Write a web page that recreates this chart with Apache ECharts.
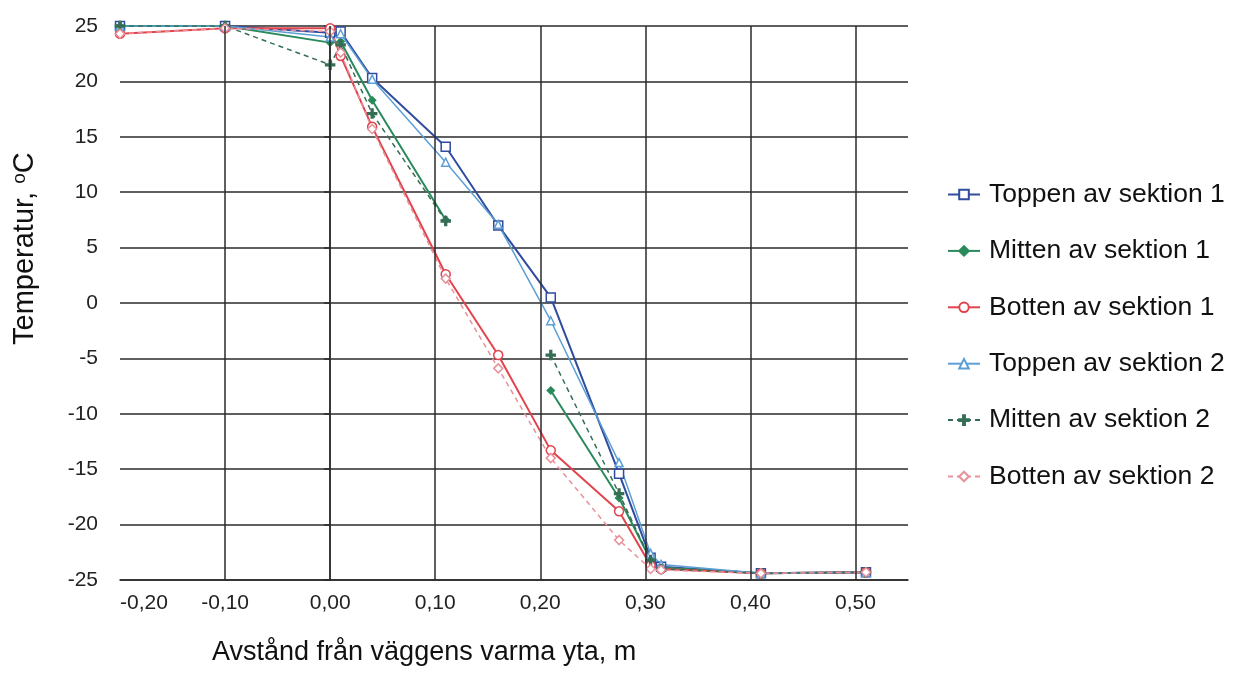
<!DOCTYPE html>
<html>
<head>
<meta charset="utf-8">
<script src="https://cdn.jsdelivr.net/npm/echarts@6/dist/echarts.min.js"></script>
<style>
html,body{margin:0;padding:0;background:#fff;}
#chart{width:1233px;height:681px;}
</style>
</head>
<body>
<div id="chart"></div>
<script>
// ---- data ----
const xPositions = [-0.20, -0.10, 0.00, 0.01, 0.04, 0.11, 0.16, 0.21, 0.275, 0.305, 0.315, 0.41, 0.51];
const seriesNames = ['Toppen av sektion 1','Mitten av sektion 1','Botten av sektion 1','Toppen av sektion 2','Mitten av sektion 2','Botten av sektion 2'];
const toppen1 = [25, 25, 24.4, 24.5, 20.3, 14.1, 7.0, 0.5, -15.4, -23.0, -23.8, -24.4, -24.3];
const mitten1 = [25, 25, 23.5, 23.6, 18.3, 7.5, null, -7.9, -17.6, -23.2, -23.9, -24.4, -24.3];
const botten1 = [24.3, 24.8, 24.8, 22.3, 15.9, 2.6, -4.7, -13.3, -18.8, -23.7, -24.0, -24.4, -24.3];
const toppen2 = [25, 25, 24.0, 24.3, 20.2, 12.7, 7.1, -1.6, -14.4, -22.6, -23.6, -24.4, -24.3];
const mitten2 = [25, 25, 21.5, 23.3, 17.1, 7.4, null, -4.7, -17.2, -23.2, -24.0, -24.4, -24.3];
const botten2 = [24.3, 24.8, 24.5, 22.6, 15.7, 2.2, -5.9, -14.0, -21.4, -24.0, -24.1, -24.4, -24.3];
const xGridTicks = [-0.10, 0.00, 0.10, 0.20, 0.30, 0.40, 0.50];
const xAxisTitle = 'Avstånd från väggens varma yta, m';

function pairs(ys){ return xPositions.map((x,i)=>[x, ys[i]]); }

const FONT = '"Liberation Sans", Arial, sans-serif';
const plusPath = 'path://M4,0h2v10h-2z M0,4h10v2h-10z';

const chart = echarts.init(document.getElementById('chart'), null, {renderer:'canvas'});

function mk(name, ys, color, width, type, symbol, size, filled){
  return {
    name, type:'line', data: pairs(ys), connectNulls:false,
    symbol, symbolSize:size, showSymbol:true,
    lineStyle:{color, width, type},
    itemStyle:{color: filled ? color : '#fff', borderColor:color, borderWidth:1.5},
    emphasis:{disabled:true}, z:3
  };
}

const series = [
  mk(seriesNames[0], toppen1, '#2f4c9e', 2, 'solid', 'rect', 9, false),
  mk(seriesNames[1], mitten1, '#2a8a5c', 2, 'solid', 'diamond', 7, true),
  mk(seriesNames[2], botten1, '#e2434c', 2, 'solid', 'circle', 9, false),
  mk(seriesNames[3], toppen2, '#5b9fd6', 1.5, 'solid', 'triangle', 8, false),
  mk(seriesNames[4], mitten2, '#356e55', 1.5, [5,4], plusPath, 9, true),
  mk(seriesNames[5], botten2, '#e8919b', 1.5, [5,4], 'diamond', 9, false),
  {
    type:'line', data:[], silent:true, z:1,
    markLine:{
      silent:true, symbol:['none','none'], label:{show:false},
      lineStyle:{color:'#2a2a2a', width:1.5, type:'solid'},
      emphasis:{disabled:true},
      data: xGridTicks.map(v=>({xAxis:v}))
    }
  }
];

chart.setOption({
  animation:false,
  backgroundColor:'#fff',
  grid:{left:120, right:325, top:26, bottom:101},
  legend:{
    orient:'vertical', left:942, top:176,
    itemWidth:32, itemHeight:12, itemGap:29.4,
    data: seriesNames,
    textStyle:{fontSize:26.5, color:'#111', fontFamily:FONT, padding:[0,0,0,4]}
  },
  xAxis:{
    type:'value', min:-0.2, max:0.55, interval:0.1,
    axisLine:{show:true, onZero:false, lineStyle:{color:'#2a2a2a', width:1.5}},
    axisTick:{show:false},
    splitLine:{show:false},
    axisLabel:{
      fontSize:21, color:'#222', fontFamily:FONT, margin:13,
      alignMinLabel:'left',
      formatter: v => (v > 0.505) ? '' : v.toFixed(2).replace('.', ',')
    }
  },
  yAxis:{
    type:'value', min:-25, max:25, interval:5,
    axisLine:{show:true, lineStyle:{color:'#2a2a2a', width:1.5}},
    axisTick:{show:true, inside:false, length:6, lineStyle:{color:'#2a2a2a', width:1.5}},
    splitLine:{show:true, lineStyle:{color:'#2a2a2a', width:1.5}},
    axisLabel:{fontSize:21, color:'#222', fontFamily:FONT, margin:22}
  },
  graphic:[
    {
      type:'text', left:212, top:639,
      style:{text:xAxisTitle, fontSize:27, fill:'#111', fontFamily:FONT}
    },
    {
      type:'text', x:10, y:345, rotation:Math.PI/2,
      style:{
        text:'Temperatur, {sup|o}C', fontSize:29, fill:'#111', fontFamily:FONT,
        rich:{sup:{fontSize:19, fill:'#111', fontFamily:FONT, verticalAlign:'top', padding:[0,0,11,0]}}
      }
    }
  ],
  series
});
</script>
</body>
</html>
